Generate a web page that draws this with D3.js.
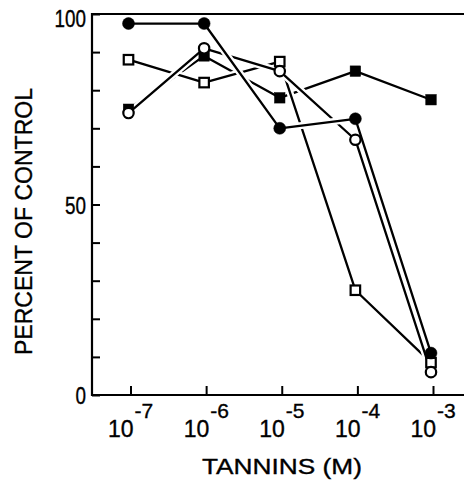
<!DOCTYPE html>
<html>
<head>
<meta charset="utf-8">
<script src="https://cdn.jsdelivr.net/npm/d3@7"></script>
<style>
  body { margin: 0; background: #fff; }
  svg { display: block; }
  text { font-family: "Liberation Sans", Arial, sans-serif; fill: #000; stroke: #000; stroke-width: 0.35; }
</style>
</head>
<body>
<svg id="chart" width="464" height="482"></svg>
<script>
// tannin concentrations (M)
const concentrations = [1e-7, 1e-6, 1e-5, 1e-4, 1e-3];

// percent of control
const filledCircle = [97.5, 97.5, 70, 72.5, 11];
const openCircle = [74, 91, 85, 67, 6];
const openSquare = [88, 82, 87.5, 27.5, 8.5];
const filledSquare = [75, 89, 78, 85, 77.5];

const yTicks = d3.range(0, 101, 10);
const yLabels = [0, 50, 100];
const xTickExps = [-7, -6, -5, -4, -3];

const xTitle = "TANNINS (M)";
const yTitle = "PERCENT OF CONTROL";

const svg = d3.select("#chart");
const width = 464,
  height = 482;

const margin = { top: 14, left: 92, bottom: 395 };

const xScale = d3.scaleLog().domain([1e-7, 1e-3]).range([128.5, 431]);
const yScale = d3.scaleLinear().domain([0, 100]).range([margin.bottom, margin.top]);

// series: line order (last drawn breaks the others at crossings)
const series = [
  { key: "filledSquare", values: filledSquare, shape: "square", filled: true },
  { key: "openSquare", values: openSquare, shape: "square", filled: false },
  { key: "openCircle", values: openCircle, shape: "circle", filled: false },
  { key: "filledCircle", values: filledCircle, shape: "circle", filled: true },
];
// marker stacking order
const markerOrder = ["openSquare", "filledSquare", "filledCircle", "openCircle"];

// frame
const frame = svg.append("g").attr("stroke", "#000").attr("stroke-width", 2.2).attr("fill", "none");
frame.append("line").attr("x1", margin.left).attr("x2", width).attr("y1", yScale(100)).attr("y2", yScale(100));
frame.append("line").attr("x1", margin.left).attr("x2", width).attr("y1", yScale(0)).attr("y2", yScale(0));
frame.append("line").attr("x1", margin.left).attr("x2", margin.left).attr("y1", yScale(100) - 1).attr("y2", yScale(0) + 1);

// y axis
const gy = svg
  .append("g")
  .attr("transform", `translate(${margin.left},0)`)
  .call(
    d3
      .axisLeft(yScale)
      .tickValues(yTicks)
      .tickSize(-8)
      .tickPadding(6)
      .tickFormat((d) => (yLabels.includes(d) ? String(d) : ""))
  );
gy.select(".domain").remove();
gy.selectAll(".tick line").attr("stroke", "#000").attr("stroke-width", 2);
gy.selectAll(".tick text")
  .attr("font-size", 24)
  .attr("font-family", null)
  .attr("textLength", (d) => (yLabels.includes(d) ? String(d).length * 10.5 : null))
  .attr("lengthAdjust", "spacingAndGlyphs")
  .attr("dy", (d) => (d === 100 ? "0.5em" : "0.36em"));

// x axis
const gx = svg
  .append("g")
  .attr("transform", `translate(0,${margin.bottom})`)
  .call(
    d3
      .axisBottom(xScale)
      .tickValues(xTickExps.map((e) => Math.pow(10, e)))
      .tickSize(-9)
      .tickSizeOuter(0)
  );
gx.select(".domain").remove();
gx.selectAll(".tick line").attr("stroke", "#000").attr("stroke-width", 2).attr("transform", "translate(2,0)");
gx.selectAll(".tick text").each(function (d, i) {
  const t = d3.select(this);
  t.text(null)
    .attr("font-family", null)
    .attr("text-anchor", "start")
    .attr("x", -21)
    .attr("y", 42)
    .attr("dy", 0);
  t.append("tspan").attr("font-size", 23).text("10");
  t.append("tspan")
    .attr("font-size", 21)
    .attr("dx", 1)
    .attr("dy", -19)
    .text(xTickExps[i] < 0 ? "-" + Math.abs(xTickExps[i]) : xTickExps[i]);
});

// titles
svg
  .append("text")
  .attr("x", 282)
  .attr("y", 474)
  .attr("text-anchor", "middle")
  .attr("font-size", 22)
  .attr("textLength", 160)
  .attr("lengthAdjust", "spacingAndGlyphs")
  .text(xTitle);

svg
  .append("text")
  .attr("transform", "translate(32,221.5) rotate(-90)")
  .attr("text-anchor", "middle")
  .attr("font-size", 24)
  .attr("textLength", 267)
  .attr("lengthAdjust", "spacingAndGlyphs")
  .text(yTitle);

// lines
const line = d3
  .line()
  .x((d, i) => xScale(concentrations[i]))
  .y((d) => yScale(d));

const gLines = svg.append("g");
series.forEach((s) => {
  gLines
    .append("path")
    .attr("d", line(s.values))
    .attr("fill", "none")
    .attr("stroke", "#fff")
    .attr("stroke-width", 7)
    .attr("stroke-linecap", "butt");
  gLines
    .append("path")
    .attr("d", line(s.values))
    .attr("fill", "none")
    .attr("stroke", "#000")
    .attr("stroke-width", 2.3)
    .attr("stroke-linejoin", "round");
});

// markers
const gMarks = svg.append("g");
markerOrder.forEach((key) => {
  const s = series.find((d) => d.key === key);
  const pts = s.values.map((v, i) => ({ x: xScale(concentrations[i]), y: yScale(v) }));
  if (s.shape === "circle") {
    gMarks
      .selectAll(null)
      .data(pts)
      .join("circle")
      .attr("cx", (d) => d.x)
      .attr("cy", (d) => d.y)
      .attr("r", s.filled ? 6 : 5.2)
      .attr("fill", s.filled ? "#000" : "#fff")
      .attr("stroke", "#000")
      .attr("stroke-width", s.filled ? 0.5 : 2.2);
  } else {
    const side = s.filled ? 10.5 : 9.5;
    gMarks
      .selectAll(null)
      .data(pts)
      .join("rect")
      .attr("x", (d) => d.x - side / 2)
      .attr("y", (d) => d.y - side / 2)
      .attr("width", side)
      .attr("height", side)
      .attr("fill", s.filled ? "#000" : "#fff")
      .attr("stroke", "#000")
      .attr("stroke-width", s.filled ? 0.5 : 2.2);
  }
});
</script>
</body>
</html>
